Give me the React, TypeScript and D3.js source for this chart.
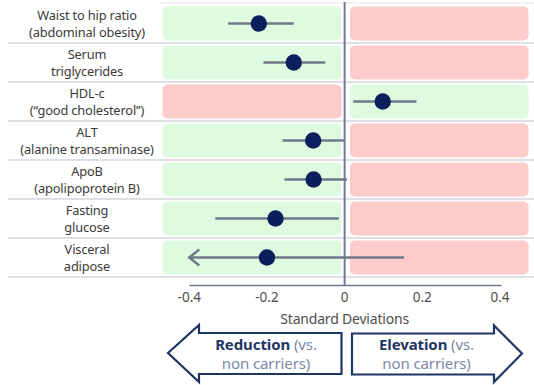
import React from "react";
import * as d3 from "d3";

const labels = [
  ["Waist to hip ratio", "(abdominal obesity)"],
  ["Serum", "triglycerides"],
  ["HDL-c", "(\u201cgood cholesterol\u201d)"],
  ["ALT", "(alanine transaminase)"],
  ["ApoB", "(apolipoprotein B)"],
  ["Fasting", "glucose"],
  ["Visceral", "adipose"],
];
const estimates = [-0.221, -0.131, 0.098, -0.081, -0.08, -0.178, -0.2];
const lower = [-0.3, -0.209, 0.022, -0.16, -0.155, -0.333, -0.4];
const upper = [-0.131, -0.05, 0.185, -0.002, 0.006, -0.015, 0.153];
const truncatedLeft = [false, false, false, false, false, false, true];
// which side is "good" (green) : true => left green / right red
const leftIsGood = [true, true, false, true, true, true, true];
const ticks = [-0.4, -0.2, 0, 0.2, 0.4];

const W = 534;
const H = 385;
const FONT = "'Noto Sans', sans-serif";
const GREEN = "#dffbdf";
const RED = "#fecbcb";
const NAVY = "#0b1f5c";
const CI = "#6f7a88";
const ARROW = "#1f3563";

export default function App() {
  const x = d3.scaleLinear().domain([-0.4, 0.4]).range([189.3, 500]);
  const y = d3
    .scaleBand<number>()
    .domain(d3.range(labels.length))
    .range([4, 277])
    .padding(0);
  const bw = y.bandwidth();
  const x0 = x(0);
  const leftBox = [162.5, 341.5];
  const rightBox = [350, 528.5];
  const axisY = 285.5;

  const leftArrow = [
    [168, 353],
    [199, 325],
    [199, 333],
    [341.5, 333],
    [341.5, 374],
    [199, 374],
    [199, 382],
  ];
  const rightArrow = [
    [352, 333.5],
    [494, 333.5],
    [494, 325.5],
    [522, 353.5],
    [494, 382],
    [494, 374.5],
    [352, 374.5],
  ];
  const line = d3.line();

  return (
    <svg
      width={W}
      height={H}
      style={{ position: "absolute", left: 0, top: 0, background: "#ffffff" }}
      fontFamily={FONT}
    >
      <rect width={W} height={H} fill="#ffffff" />
      {/* top line */}
      <line x1={160} x2={W} y1={3} y2={3} stroke="#e4e6ea" strokeWidth={1.2} />
      {labels.map((lab, i) => {
        const top = y(i)!;
        const cy = top + bw / 2;
        const good = leftIsGood[i];
        return (
          <g key={i}>
            <rect
              x={leftBox[0]}
              y={top + 2.5}
              width={leftBox[1] - leftBox[0]}
              height={bw - 5}
              rx={5}
              fill={good ? GREEN : RED}
            />
            <rect
              x={rightBox[0]}
              y={top + 2.5}
              width={rightBox[1] - rightBox[0]}
              height={bw - 5}
              rx={5}
              fill={good ? RED : GREEN}
            />
            <line
              x1={8}
              x2={W}
              y1={top + bw}
              y2={top + bw}
              stroke="#d3d6dc"
              strokeWidth={1.5}
            />
            <text
              x={87}
              y={cy - 8.5}
              textAnchor="middle"
              dominantBaseline="central"
              fontSize={12.8}
              fill="#3a3a3a"
              letterSpacing={-0.15}
            >
              {lab[0]}
            </text>
            <text
              x={87}
              y={cy + 8.5}
              textAnchor="middle"
              dominantBaseline="central"
              fontSize={12.8}
              fill="#3a3a3a"
              letterSpacing={-0.15}
            >
              {lab[1]}
            </text>
          </g>
        );
      })}
      {/* zero line */}
      <line x1={x0} x2={x0} y1={2} y2={axisY} stroke="#737b97" strokeWidth={2} />
      {/* CIs and points */}
      {labels.map((_, i) => {
        const cy = y(i)! + bw / 2;
        return (
          <g key={"p" + i}>
            <line
              x1={x(lower[i])}
              x2={x(upper[i])}
              y1={cy}
              y2={cy}
              stroke={CI}
              strokeWidth={2.5}
            />
            {truncatedLeft[i] && (
              <path
                d={`M${x(lower[i]) + 10},${cy - 8} L${x(lower[i])},${cy} L${x(lower[i]) + 10},${cy + 8}`}
                fill="none"
                stroke={CI}
                strokeWidth={2.5}
              />
            )}
            <circle cx={x(estimates[i])} cy={cy} r={8.2} fill={NAVY} />
          </g>
        );
      })}
      {/* axis */}
      <line
        x1={x(-0.4)}
        x2={x(0.4) + 1.5}
        y1={axisY}
        y2={axisY}
        stroke="#6d7893"
        strokeWidth={1.5}
      />
      {ticks.map((t) => (
        <text
          key={t}
          x={x(t)}
          y={297}
          textAnchor="middle"
          dominantBaseline="central"
          fontSize={13.5}
          fill="#4d4d4d"
        >
          {t === 0 ? "0" : t.toFixed(1)}
        </text>
      ))}
      <text
        x={x0}
        y={318}
        textAnchor="middle"
        dominantBaseline="central"
        fontSize={14}
        fill="#4d4d4d"
        letterSpacing={-0.2}
      >
        Standard Deviations
      </text>
      {/* bottom arrows */}
      <path
        d={line(leftArrow as [number, number][])! + "Z"}
        fill="#ffffff"
        stroke={ARROW}
        strokeWidth={2.2}
        strokeLinejoin="miter"
      />
      <path
        d={line(rightArrow as [number, number][])! + "Z"}
        fill="#ffffff"
        stroke={ARROW}
        strokeWidth={2.2}
        strokeLinejoin="miter"
      />
      <text x={266} y={343.5} textAnchor="middle" dominantBaseline="central" fontSize={15} letterSpacing={-0.1}>
        <tspan fill={ARROW} fontWeight="bold">Reduction</tspan>
        <tspan fill="#7b88a6"> (vs.</tspan>
      </text>
      <text x={266} y={363} textAnchor="middle" dominantBaseline="central" fontSize={15} fill="#7b88a6" letterSpacing={-0.1}>
        non carriers)
      </text>
      <text x={426.5} y={343.5} textAnchor="middle" dominantBaseline="central" fontSize={15} letterSpacing={-0.1}>
        <tspan fill={ARROW} fontWeight="bold">Elevation</tspan>
        <tspan fill="#7b88a6"> (vs.</tspan>
      </text>
      <text x={426.5} y={363} textAnchor="middle" dominantBaseline="central" fontSize={15} fill="#7b88a6" letterSpacing={-0.1}>
        non carriers)
      </text>
    </svg>
  );
}
